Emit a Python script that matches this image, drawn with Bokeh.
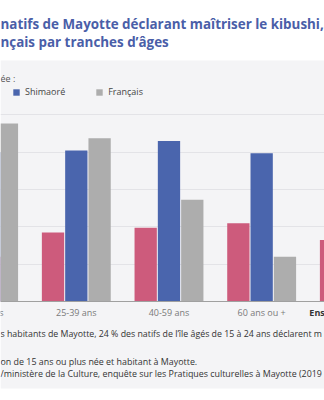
from bokeh.plotting import figure
from bokeh.models import (ColumnDataSource, Range1d, FixedTicker, Span, Label,
                          Legend, LegendItem, BoxAnnotation)
from bokeh.transform import dodge
from bokeh.core.properties import value
from bokeh.embed import file_html
from bokeh.resources import INLINE

# ---- data ----
categories = ["15-24 ans", "25-39 ans", "40-59 ans", "60 ans ou +", "Ensemble"]
kibushi = [24, 37, 39.5, 42, 33]
shimaore = [80, 81, 86, 79.5, 82]
francais = [95.5, 87.5, 54.5, 24, 72]
y_ticks = [20, 40, 60, 80, 100]

PINK = "#cd5b7c"
BLUE = "#4a65ad"
GREY = "#adadad"
PANEL = "#f4f4f6"
FONT = "Open Sans"
TITLE = "#4a5ea8"
H = 400

src = ColumnDataSource(dict(x=list(range(len(categories))), cat=categories,
                            k=kibushi, s=shimaore, f=francais))

p = figure(width=324, height=H, output_backend="svg", toolbar_location=None,
           x_range=Range1d(0.182, 3.678), y_range=Range1d(-53.08, 161.39),
           min_border=0)
p.background_fill_color = "white"
p.border_fill_color = "white"
p.outline_line_color = None
p.xaxis.visible = False
p.yaxis.visible = False
p.xgrid.visible = False
p.ygrid.ticker = FixedTicker(ticks=y_ticks)
p.ygrid.grid_line_color = "#e3e3e7"
p.ygrid.grid_line_width = 1

# grey panel behind the chart
p.add_layout(BoxAnnotation(top=H - 60, bottom=H - 388, top_units="screen",
                           bottom_units="screen", fill_color=PANEL,
                           fill_alpha=1, line_color=None, level="image"))

off = 0.2514
w = 0.2406
rk = p.vbar(x=dodge("x", -off), top="k", bottom=0, width=w, source=src,
            fill_color=PINK, line_color=None)
rs = p.vbar(x="x", top="s", bottom=0, width=w, source=src,
            fill_color=BLUE, line_color=None)
rf = p.vbar(x=dodge("x", off), top="f", bottom=0, width=w, source=src,
            fill_color=GREY, line_color=None)

p.add_layout(Span(location=0, dimension="width", line_color="#a0a0a0",
                  line_width=1))

# category labels (visible parts)
lab_src = ColumnDataSource(dict(x=[1, 2, 3], t=categories[1:4]))
p.text(x="x", y=0, text="t", source=lab_src, text_align="center",
       text_baseline="middle", y_offset=11, text_font=value(FONT),
       text_font_size="9px", text_color="#7a7a7a")
p.text(x=[0], y=[0], text=[categories[0][-1:]], text_align="right",
       text_baseline="middle", x_offset=20, y_offset=11,
       text_font=value(FONT), text_font_size="9px", text_color="#7a7a7a")
p.text(x=[4], y=[0], text=[categories[4][:3]], text_align="left",
       text_baseline="middle", x_offset=-45, y_offset=11,
       text_font=value(FONT), text_font_size="9px", text_font_style="bold",
       text_color="#333333")

# legend
legend = Legend(items=[LegendItem(label="Shimaoré", renderers=[rs]),
                       LegendItem(label="Français", renderers=[rf])],
                orientation="horizontal", location=(12, H - 98),
                glyph_width=8, glyph_height=8, label_height=10,
                label_standoff=5, spacing=30, padding=0, margin=0,
                background_fill_alpha=0, border_line_color=None,
                label_text_font=FONT, label_text_font_size="9px",
                label_text_color="#444444")
p.add_layout(legend, "center")


def lbl(text, x, ycanvas, size, color, bold=False):
    p.add_layout(Label(x=x, y=H - ycanvas, x_units="screen", y_units="screen",
                       text=text, text_font=FONT, text_font_size=size,
                       text_color=color, text_baseline="middle",
                       text_font_style="bold" if bold else "normal"))


lbl("natifs de Mayotte déclarant maîtriser le kibushi,", 0, 23, "13.4px", TITLE, True)
lbl("nçais par tranches d’âges", 0, 41, "13.4px", TITLE, True)
lbl("ée :", 0, 78, "9px", "#555555")
lbl("s habitants de Mayotte, 24 % des natifs de l’île âgés de 15 à 24 ans déclarent m",
    0, 333, "8.8px", "#333333")
lbl("on de 15 ans ou plus née et habitant à Mayotte.", 0, 361, "8.9px", "#333333")
lbl("/ministère de la Culture, enquête sur les Pratiques culturelles à Mayotte (2019",
    0, 373, "8.9px", "#333333")

open("out.html", "w").write(file_html(p, INLINE))
